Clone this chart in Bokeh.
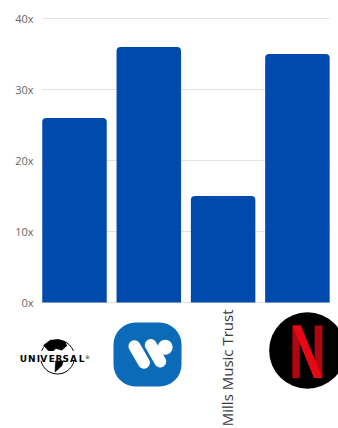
import math
from bokeh.plotting import figure
from bokeh.models import Range1d
from bokeh.core.properties import value
from bokeh.embed import file_html
from bokeh.resources import INLINE

# ---- data ----
companies = ["Universal", "Warner", "Mills Music Trust", "Netflix"]
multiples = [26, 36, 15, 35]
y_ticks = [0, 10, 20, 30, 40]
y_tick_labels = ["0x", "10x", "20x", "30x", "40x"]

# ---- layout constants ----
W, H = 338, 428
TOP = 18              # pixel row of the top tick (40x)
PITCH = 74.3          # px per category
PX_PER_UNIT = 7.1     # px per y unit
FIRST_CENTER = 74     # pixel column of first bar centre
X_START = -FIRST_CENTER / PITCH
BAR_W = 64.5 / PITCH
Y_MAX = 40

x_end = X_START + W / PITCH
y_lo = Y_MAX - (H - TOP) / PX_PER_UNIT
y_hi = Y_MAX + TOP / PX_PER_UNIT

p = figure(width=W, height=H, x_range=Range1d(X_START, x_end),
           y_range=Range1d(y_lo, y_hi),
           output_backend="svg", toolbar_location=None,
           x_axis_location=None, y_axis_location=None,
           min_border_left=0, min_border_top=0,
           min_border_right=0, min_border_bottom=0)
p.outline_line_color = None
p.grid.visible = False


def lx(i, off):
    return i + off / PITCH


def ly(py):
    return Y_MAX - (py - TOP) / PX_PER_UNIT


n = len(companies)
xs = list(range(n))

# y tick labels
p.text(x=[lx(0, -41)] * len(y_ticks), y=y_ticks, text=y_tick_labels,
       text_font=value("Open Sans"), text_font_size=value("11px"),
       text_color="#666666", text_align="right", text_baseline="middle")

# gridlines
gx0 = 0 - BAR_W / 2
gx1 = (n - 1) + BAR_W / 2
p.segment(x0=[gx0] * len(y_ticks), y0=y_ticks, x1=[gx1] * len(y_ticks), y1=y_ticks,
          line_color="#e3e3e3", line_width=1)

# bars
p.vbar(x=xs, top=multiples, bottom=0, width=BAR_W, fill_color="#004AAD",
       line_color=None, border_radius=(4, 4, 0, 0))

# ---- logo: Universal (category 0) ----
ui, ucx, ucy = 0, -17, 356.5
p.scatter(x=[lx(ui, ucx)], y=[ly(ucy)], size=34, marker="circle",
          fill_color=None, line_color="black", line_width=1)
na = [(-14, -11.8), (-7.3, -16.8), (1, -17.5), (7.7, -15.2), (9.3, -11.2),
      (4.3, -6.8), (-1.7, -8.5), (-5.7, -4.5), (-9.7, -6.8)]
p.patch(x=[lx(ui, ucx + a) for a, b in na], y=[ly(ucy + b) for a, b in na],
        fill_color="black", line_color="black", line_width=0.5)
sa = [(-2, 3.5), (6, 3.5), (4.5, 8.5), (0, 13), (-2.5, 15)]
p.patch(x=[lx(ui, ucx + a) for a, b in sa], y=[ly(ucy + b) for a, b in sa],
        fill_color="black", line_color="black", line_width=0.5)
p.quad(left=[lx(ui, ucx - 39)], right=[lx(ui, ucx + 36)],
       top=[ly(ucy - 6)], bottom=[ly(ucy + 3.8)], fill_color="white", line_color=None)
letters = list("UNIVERSAL")
letter_off = [-34, -25.7, -19.2, -13.7, -5.8, 1.5, 8.3, 16, 24]
p.text(x=[lx(ui, ucx + o) for o in letter_off], y=[ly(358.7)] * len(letters), text=letters,
       text_font=value("DejaVu Sans"), text_font_style="bold",
       text_font_size=value("9px"), text_color="black",
       text_align="center", text_baseline="alphabetic")
p.text(x=[lx(ui, ucx + 30)], y=[ly(356)], text=["®"],
       text_font=value("DejaVu Sans"), text_font_size=value("5px"), text_color="black",
       text_align="center", text_baseline="alphabetic")

# ---- logo: Warner (category 1) ----
wi, wcx, wcy = 1, -1.3, 354
p.rect(x=[lx(wi, wcx)], y=[ly(wcy)], width=68, height=64,
       width_units="screen", height_units="screen",
       fill_color="#0B6BB9", line_color=None, border_radius=22)
pill_ang = -math.radians(60)
p.rect(x=[lx(wi, wcx - 8.3), lx(wi, wcx + 8)], y=[ly(wcy), ly(wcy - 1.2)],
       width=31, height=12, width_units="screen", height_units="screen",
       angle=pill_ang, fill_color="white", line_color=None, border_radius=6)
p.scatter(x=[lx(wi, wcx + 17.7)], y=[ly(wcy - 7.3)], size=15, marker="circle",
          fill_color="white", line_color=None)

# ---- logo: Mills Music Trust (category 2, text) ----
p.text(x=[lx(2, 3.4)], y=[ly(309)], text=[companies[2]], angle=math.pi / 2,
       text_font=value("Open Sans"), text_font_size=value("15px"),
       text_color="#3a3a3a", text_align="right", text_baseline="alphabetic")

# ---- logo: Netflix (category 3) ----
ni, ncx, ncy = 3, 10, 350
p.scatter(x=[lx(ni, ncx)], y=[ly(ncy)], size=76.5, marker="circle",
          fill_color="black", line_color=None)
p.quad(left=[lx(ni, ncx - 15), lx(ni, ncx + 7.3)], right=[lx(ni, ncx - 7.7), lx(ni, ncx + 15)],
       top=[ly(ncy - 25)] * 2, bottom=[ly(ncy + 27.7), ly(ncy + 26.7)],
       fill_color="#B1060F", line_color=None)
diag = [(-15, -25), (-6.5, -25), (15, 27.5), (6.5, 27.5)]
p.patch(x=[lx(ni, ncx + a) for a, b in diag], y=[ly(ncy + b) for a, b in diag],
        fill_color="#E50914", line_color=None)

open("out.html", "w").write(file_html(p, INLINE))
